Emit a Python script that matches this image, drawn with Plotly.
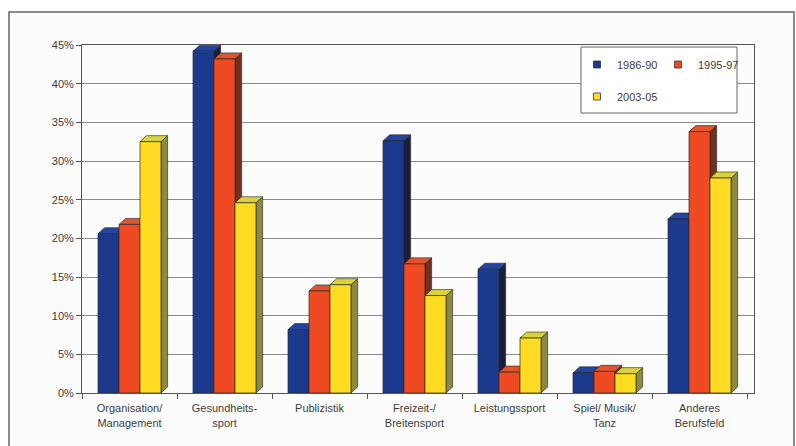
import plotly.graph_objects as go

categories = ["Organisation/<br>Management", "Gesundheits-<br>sport", "Publizistik",
              "Freizeit-/<br>Breitensport", "Leistungssport", "Spiel/ Musik/<br>Tanz",
              "Anderes<br>Berufsfeld"]
series_names = ["1986-90", "1995-97", "2003-05"]
v_1986 = [20.6, 44.2, 8.2, 32.6, 16.0, 2.6, 22.5]
v_1995 = [21.8, 43.2, 13.2, 16.7, 2.7, 2.8, 33.8]
v_2003 = [32.5, 24.6, 14.0, 12.6, 7.1, 2.5, 27.8]
values = [v_1986, v_1995, v_2003]
y_ticks = [0, 5, 10, 15, 20, 25, 30, 35, 40, 45]
y_ticktext = [f"{t}%" for t in y_ticks]

front_cols = ["#1b3a8e", "#f04a22", "#ffdc22"]
side_cols = ["#181f3c", "#73301f", "#8c8a3c"]
top_cols = ["#23459c", "#e2552c", "#d9d23a"]

W, H = 796, 446
L, R, T, B = 82, 42, 45, 53
PW, PH = W - L - R, H - T - B
BW = 0.221          # bar width (category units)
DX = 0.07           # 3D depth in x (category units)
DY = 0.78           # 3D depth in y (percent units)
offsets = [-BW, 0.0, BW]
XR = [-0.5, 6.5 + 7 / 95]
YR = [0, 45]

fig = go.Figure()

# depth faces (side + top) on base axes
for s in range(3):
    sx, sy, tx, ty = [], [], [], []
    for i, v in enumerate(values[s]):
        x0 = i + offsets[s] - BW / 2
        x1 = i + offsets[s] + BW / 2
        sx += [x1, x1 + DX, x1 + DX, x1, x1, None]
        sy += [0, DY, v + DY, v, 0, None]
        tx += [x0, x1, x1 + DX, x0 + DX, x0, None]
        ty += [v, v, v + DY, v + DY, v, None]
    fig.add_trace(go.Scatter(x=sx, y=sy, mode="lines", fill="toself", fillcolor=side_cols[s],
                             line=dict(color="#222", width=0.6), showlegend=False, hoverinfo="skip"))
    fig.add_trace(go.Scatter(x=tx, y=ty, mode="lines", fill="toself", fillcolor=top_cols[s],
                             line=dict(color="#222", width=0.6), showlegend=False, hoverinfo="skip"))

# front faces as bars on overlaid axes
for s in range(3):
    fig.add_trace(go.Bar(x=[i + offsets[s] for i in range(len(categories))], y=values[s],
                         width=BW, marker=dict(color=front_cols[s], line=dict(color="#2a2a2a", width=0.7)),
                         name=series_names[s], showlegend=False, xaxis="x2", yaxis="y2"))

# legend entries
for s in range(3):
    fig.add_trace(go.Scatter(x=[None], y=[None], mode="markers", name=series_names[s],
                             marker=dict(symbol="square", size=7, color=front_cols[s],
                                         line=dict(color="#333", width=0.8)),
                             legend="legend" if s < 2 else "legend2"))

def px_x(p):
    return (p - L) / PW

def px_y(p):
    return (H - B - p) / PH

font = dict(family="Liberation Sans, Arial, sans-serif", size=11, color="#3c3c3c")

fig.update_layout(
    width=W, height=H,
    margin=dict(l=L, r=R, t=T, b=B, pad=0),
    paper_bgcolor="white", plot_bgcolor="white",
    font=font,
    barmode="overlay",
    xaxis=dict(range=XR, tickmode="array", tickvals=list(range(len(categories))), ticktext=categories,
               ticks="", showgrid=False, zeroline=False, showline=True, linecolor="#555", linewidth=1,
               mirror=True, fixedrange=True, ticklabelstandoff=5,
               minor=dict(ticks="outside", tickvals=[k - 0.5 for k in range(len(categories) + 1)],
                          ticklen=5, tickcolor="#555", showgrid=False)),
    yaxis=dict(range=YR, tickmode="array", tickvals=y_ticks, ticktext=y_ticktext, ticks="outside",
               ticklen=5, tickcolor="#555", showgrid=True, gridcolor="#8a8a8a", gridwidth=1,
               zeroline=False, showline=True, linecolor="#555", linewidth=1, mirror=True, fixedrange=True),
    xaxis2=dict(range=XR, overlaying="x", visible=False, fixedrange=True),
    yaxis2=dict(range=YR, overlaying="y", visible=False, fixedrange=True),
    legend=dict(orientation="h", x=px_x(577), y=px_y(50), xanchor="left", yanchor="top",
                bgcolor="rgba(0,0,0,0)", entrywidth=36, font=font, itemwidth=30),
    legend2=dict(orientation="h", x=px_x(577), y=px_y(82), xanchor="left", yanchor="top",
                 bgcolor="rgba(0,0,0,0)", font=font, itemwidth=30),
    shapes=[
        dict(type="rect", xref="paper", yref="paper", x0=px_x(9), x1=px_x(794), y0=px_y(470), y1=px_y(12),
             line=dict(color="#666", width=1.5), fillcolor="#fcfcfc", layer="below"),
        dict(type="rect", xref="paper", yref="paper", x0=px_x(581), x1=px_x(737), y0=px_y(113), y1=px_y(47),
             line=dict(color="#666", width=1), fillcolor="white", layer="above"),
    ],
)

fig.write_html("out.html")
